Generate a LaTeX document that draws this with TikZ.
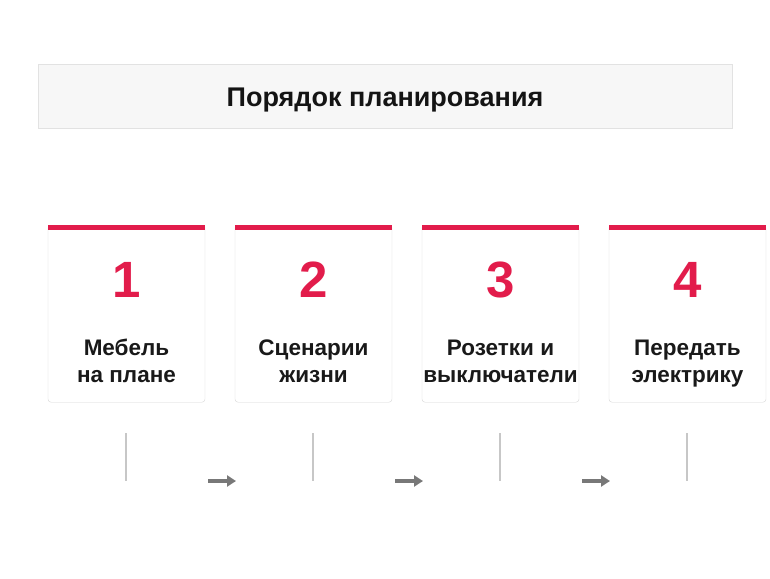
\documentclass[tikz,border=0pt]{standalone}
\usepackage{fontspec}
\setmainfont{Liberation Sans}
\usepackage{tikz}
\usetikzlibrary{arrows.meta,positioning}
\definecolor{accent}{HTML}{E21C4B}
\definecolor{titlebg}{HTML}{F7F7F7}
\definecolor{edge}{HTML}{D6D6D6}
\tikzset{
title box/.style={draw=edge!70, fill=titlebg, minimum width=694pt, minimum height=64pt, inner sep=0pt},
title text/.style={font=\bfseries\fontsize{27}{32}\selectfont, text=black!92},
card/.style={draw=edge, fill=white, rounded corners=3pt, minimum width=157pt, minimum height=177pt, inner sep=0pt, anchor=north},
numtext/.style={text=accent, font=\bfseries\fontsize{51}{56}\selectfont},
cardtext/.style={align=center, font=\bfseries\fontsize{22.5}{27}\selectfont, text=black!90},
tick/.style={draw=black!22, line width=1.5pt},
arrow/.style={draw=black!53, line width=3.5pt, -{Triangle[length=9pt,width=11pt]}}
      }

\begin{document}
\begin{tikzpicture}[x=1pt,y=-1pt]
                \useasboundingbox (0,0) rectangle (770,578);
                \node[title box] (title) at (385,96) {};
                \node[title text] (titletext) at (385,100) {Порядок планирования};
                \foreach \n/\txt [count=\i from 0] in {1/{\strut Мебель\\\strut на плане},2/{\strut Сценарии\\\strut жизни},3/{\strut Розетки и\\\strut выключатели},4/{\strut Передать\\\strut электрику}} {
                    \node[card] (card\n) at (126.5+187*\i,225) {};
                    \fill[accent] (card\n.north west) rectangle ([yshift=-5pt]card\n.north east);
                    \node[numtext] (num\n) at (126.5+187*\i,280) {\n};
                    \node[cardtext] (lbl\n) at (126.5+187*\i,364) {\txt};
                    \coordinate (top\n) at (126+187*\i,433);
                    \coordinate (bot\n) at (126+187*\i,481);
                    \draw[tick] (top\n) -- (bot\n);
                }
                \foreach \n in {1,2,3} {
                    \coordinate (from\n) at (208+187*\n-187,481);
                    \coordinate (to\n) at (236+187*\n-187,481);
                    \draw[arrow] (from\n) -- (to\n);
                }
            \end{tikzpicture}
\end{document}
